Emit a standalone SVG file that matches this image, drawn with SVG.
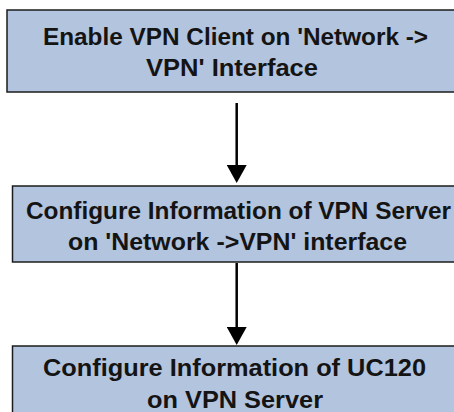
<svg xmlns="http://www.w3.org/2000/svg" width="454" height="412" viewBox="0 0 454 412">
  <style>
    .box { fill: #b3c4de; stroke: #1c1c1c; stroke-width: 1.5; }
    .lbl { font-family: "Liberation Sans", Arial, sans-serif; font-weight: bold; font-size: 23.6px; fill: #141414; text-anchor: middle; }
    .conn { stroke: #000; stroke-width: 2.5; fill: none; }
  </style>
  <defs>
    <marker id="arrow" markerUnits="userSpaceOnUse" viewBox="0 -10 18 20" refX="10" refY="0" markerWidth="18" markerHeight="20" orient="auto">
      <path d="M0,-10 L18,0 L0,10 z" fill="#000"/>
    </marker>
  </defs>
  <rect width="454" height="412" fill="#ffffff"/>
  <g id="node-enable-vpn-client">
    <rect class="box" x="7" y="10" width="460" height="82"/>
    <text class="lbl" x="235.5" y="45" textLength="385" lengthAdjust="spacingAndGlyphs">Enable VPN Client on 'Network -&gt;</text>
    <text class="lbl" x="232" y="76" textLength="172" lengthAdjust="spacingAndGlyphs">VPN' Interface</text>
  </g>
  <g id="node-configure-vpn-server">
    <rect class="box" x="12.5" y="186" width="460" height="76"/>
    <text class="lbl" x="238.5" y="219" textLength="425" lengthAdjust="spacingAndGlyphs">Configure Information of VPN Server</text>
    <text class="lbl" x="237.5" y="250" textLength="339" lengthAdjust="spacingAndGlyphs">on 'Network -&gt;VPN' interface</text>
  </g>
  <g id="node-configure-uc120">
    <rect class="box" x="12.5" y="346" width="460" height="80"/>
    <text class="lbl" x="234.5" y="376" textLength="383" lengthAdjust="spacingAndGlyphs">Configure Information of UC120</text>
    <text class="lbl" x="235" y="408" textLength="176" lengthAdjust="spacingAndGlyphs">on VPN Server</text>
  </g>
  <g id="connectors">
    <line class="conn" x1="236.7" y1="103" x2="236.7" y2="175" marker-end="url(#arrow)"/>
    <line class="conn" x1="236.7" y1="263" x2="236.7" y2="337" marker-end="url(#arrow)"/>
  </g>
</svg>
